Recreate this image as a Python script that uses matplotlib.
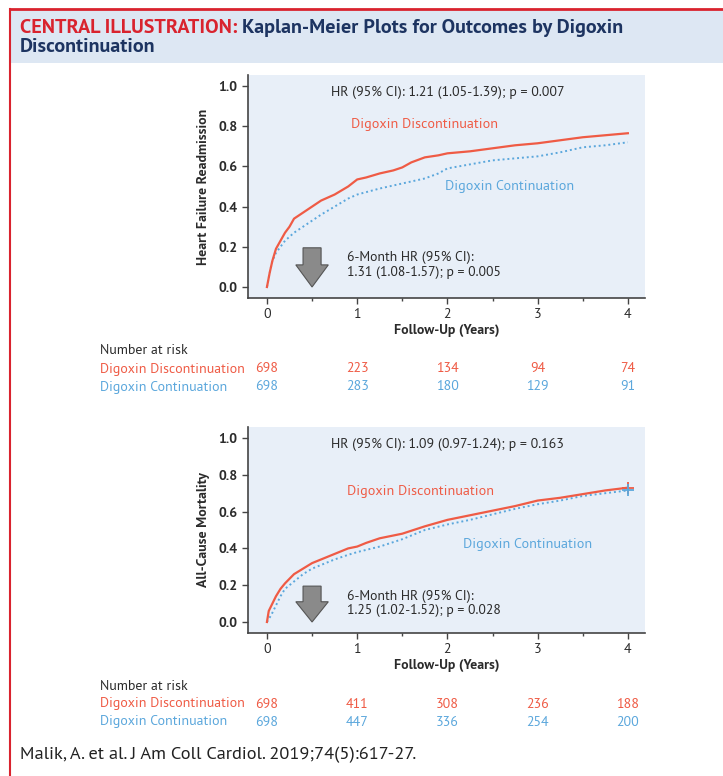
import numpy as np
import matplotlib.pyplot as plt
from matplotlib.patches import Rectangle, FancyArrow
from matplotlib.lines import Line2D
import matplotlib.transforms as mtransforms

plt.rcParams['font.family'] = ['PT Sans', 'DejaVu Sans']

W, H = 723, 776
RED = '#ef5b45'
BLUE = '#5ba7dc'
DARK = '#2b2b2b'

# heart failure readmission curves
hf_t_disc = [0, 0.03, 0.06, 0.1, 0.15, 0.2, 0.25, 0.3, 0.4, 0.5, 0.6, 0.75, 0.9, 1.0, 1.1, 1.25,
             1.4, 1.5, 1.6, 1.75, 1.9, 2.0, 2.25, 2.5, 2.75, 3.0, 3.25, 3.5, 3.75, 4.0]
hf_y_disc = [0, 0.07, 0.13, 0.19, 0.23, 0.27, 0.30, 0.34, 0.37, 0.40, 0.43, 0.46, 0.50, 0.535, 0.545,
             0.565, 0.58, 0.595, 0.62, 0.645, 0.655, 0.665, 0.675, 0.69, 0.705, 0.715, 0.73, 0.745,
             0.755, 0.765]
hf_t_cont = [0, 0.03, 0.06, 0.1, 0.15, 0.2, 0.25, 0.3, 0.4, 0.5, 0.6, 0.75, 0.9, 1.0, 1.25, 1.5,
             1.75, 1.9, 2.0, 2.25, 2.5, 2.75, 3.0, 3.25, 3.5, 3.75, 4.0]
hf_y_cont = [0, 0.07, 0.13, 0.17, 0.20, 0.23, 0.25, 0.27, 0.30, 0.33, 0.36, 0.40, 0.44, 0.46, 0.49,
             0.515, 0.54, 0.565, 0.59, 0.61, 0.63, 0.64, 0.65, 0.67, 0.695, 0.705, 0.72]

# all-cause mortality curves
mort_t_disc = [0, 0.02, 0.05, 0.1, 0.15, 0.2, 0.3, 0.4, 0.5, 0.6, 0.75, 0.9, 1.0, 1.1, 1.25, 1.4,
               1.5, 1.75, 2.0, 2.25, 2.5, 2.75, 3.0, 3.25, 3.5, 3.75, 4.0]
mort_y_disc = [0, 0.06, 0.09, 0.14, 0.18, 0.21, 0.26, 0.29, 0.32, 0.34, 0.37, 0.40, 0.41, 0.43,
               0.455, 0.47, 0.48, 0.52, 0.555, 0.58, 0.605, 0.63, 0.66, 0.675, 0.695, 0.715, 0.73]
mort_t_cont = [0, 0.05, 0.1, 0.15, 0.2, 0.3, 0.4, 0.5, 0.6, 0.75, 0.9, 1.0, 1.25, 1.5, 1.75, 2.0,
               2.25, 2.5, 2.75, 3.0, 3.25, 3.5, 3.75, 4.0]
mort_y_cont = [0, 0.04, 0.09, 0.14, 0.18, 0.22, 0.26, 0.29, 0.31, 0.34, 0.365, 0.38, 0.41, 0.45,
               0.50, 0.53, 0.555, 0.585, 0.615, 0.64, 0.66, 0.685, 0.70, 0.715]

risk_times = [0, 1, 2, 3, 4]
hf_risk_disc = [698, 223, 134, 94, 74]
hf_risk_cont = [698, 283, 180, 129, 91]
mort_risk_disc = [698, 411, 308, 236, 188]
mort_risk_cont = [698, 447, 336, 254, 200]

fig = plt.figure(figsize=(W / 100, H / 100), dpi=100)


def fy(py):
    return 1 - py / H


def fx(px):
    return px / W


# frame and header
fig.patches.append(Rectangle((fx(11), fy(63)), 1, fy(10) - fy(63), transform=fig.transFigure,
                             facecolor='#dde7f3', edgecolor='none', zorder=0))
fig.lines.append(Line2D([fx(10), 1], [fy(9), fy(9)], transform=fig.transFigure, color='#d9232e', lw=2))
fig.lines.append(Line2D([fx(10), fx(10)], [fy(9), 0], transform=fig.transFigure, color='#d9232e', lw=1.5))

hs = 14.5
t1 = fig.text(fx(20), fy(28), 'CENTRAL ILLUSTRATION: ', color='#d9232e', fontsize=hs,
              fontweight='bold', va='center', ha='left')
fig.canvas.draw()
bb = t1.get_window_extent()
fig.text(bb.x1 / W, fy(28), 'Kaplan-Meier Plots for Outcomes by Digoxin', color='#1d3461',
         fontsize=hs, fontweight='bold', va='center', ha='left')
fig.text(fx(20), fy(47), 'Discontinuation', color='#1d3461', fontsize=hs, fontweight='bold',
         va='center', ha='left')


def km_panel(top_px, bot_px, y0_px, y1_px, ylabel, t_d, y_d, t_c, y_c, hr, lbl_d, lbl_c,
             hr6a, hr6b, risk_y, risk_d, risk_c, censor=False):
    left, right = 248, 645
    ax = fig.add_axes([fx(left), fy(bot_px), fx(right) - fx(left), fy(top_px) - fy(bot_px)])
    unit = y0_px - y1_px
    ax.set_ylim(-(bot_px - y0_px) / unit, 1 + (y1_px - top_px) / unit)
    ax.set_xlim(-0.21, 4.19)
    ax.set_facecolor('#e8eff8')
    for s in ['top', 'right']:
        ax.spines[s].set_visible(False)
    for s in ['left', 'bottom']:
        ax.spines[s].set_color('#444444')
        ax.spines[s].set_linewidth(1.2)
    ax.set_xticks([0, 1, 2, 3, 4])
    ax.set_xticks([0.5, 1.5, 2.5, 3.5], minor=True)
    ax.set_yticks([0, 0.2, 0.4, 0.6, 0.8, 1.0])
    ax.set_yticklabels(['0.0', '0.2', '0.4', '0.6', '0.8', '1.0'])
    ax.tick_params(axis='both', labelsize=10, colors='#444444', labelcolor=DARK, length=4, width=1)
    ax.tick_params(axis='x', which='minor', length=2.5, width=1, colors='#444444')
    for lab in ax.get_yticklabels():
        lab.set_fontweight('bold')
    ax.set_xlabel('Follow-Up (Years)', fontsize=10, fontweight='bold', color=DARK, labelpad=2)
    ax.set_ylabel(ylabel, fontsize=10, fontweight='bold', color=DARK, labelpad=6)

    ax.plot(t_c, y_c, color=BLUE, lw=1.4, linestyle=(0, (1, 1.5)))
    ax.plot(t_d, y_d, color=RED, lw=1.6)
    if censor:
        ax.plot(t_d[-1], y_d[-1], marker='+', color=RED, ms=8, mew=1.3)
        ax.plot(t_c[-1], y_c[-1], marker='+', color=BLUE, ms=8, mew=1.3)

    ax.text(2.0, hr[1], hr[0], ha='center', va='center', fontsize=10, color=DARK)
    ax.text(lbl_d[0], lbl_d[1], 'Digoxin Discontinuation', ha='center', va='center',
            fontsize=10.2, color=RED)
    ax.text(lbl_c[0], lbl_c[1], 'Digoxin Continuation', ha='center', va='center',
            fontsize=10.2, color=BLUE)

    # 6-month arrow
    ytop = 0.195
    head = 0.11
    ax.add_patch(FancyArrow(0.5, ytop, 0, -(ytop - 0.0), width=0.2, head_width=0.36,
                            head_length=head, length_includes_head=True,
                            facecolor='#8a8a8a', edgecolor='#555555', lw=0.8))
    ax.text(0.89, hr6a[1], hr6a[0], ha='left', va='center', fontsize=9.9, color=DARK)
    ax.text(0.89, hr6b[1], hr6b[0], ha='left', va='center', fontsize=9.9, color=DARK)

    # number at risk table
    trans = mtransforms.blended_transform_factory(ax.transData, fig.transFigure)
    fig.text(fx(100), fy(risk_y[0]), 'Number at risk', ha='left', va='center', fontsize=10, color=DARK)
    fig.text(fx(100), fy(risk_y[1]), 'Digoxin Discontinuation', ha='left', va='center', fontsize=10,
             color=RED)
    fig.text(fx(100), fy(risk_y[2]), 'Digoxin Continuation', ha='left', va='center', fontsize=10,
             color=BLUE)
    for t, nd, nc in zip(risk_times, risk_d, risk_c):
        ax.text(t, fy(risk_y[1]), str(nd), transform=trans, ha='center', va='center', fontsize=10,
                color=RED)
        ax.text(t, fy(risk_y[2]), str(nc), transform=trans, ha='center', va='center', fontsize=10,
                color=BLUE)
    return ax


km_panel(75, 298, 287, 86, 'Heart Failure Readmission', hf_t_disc, hf_y_disc, hf_t_cont, hf_y_cont,
         ('HR (95% CI): 1.21 (1.05-1.39); p = 0.007', 0.97), (1.75, 0.81), (2.69, 0.50),
         ('6-Month HR (95% CI):', 0.145), ('1.31 (1.08-1.57); p = 0.005', 0.07),
         (351, 369, 387), hf_risk_disc, hf_risk_cont)

km_panel(427, 633, 622, 438, 'All-Cause Mortality', mort_t_disc, mort_y_disc, mort_t_cont, mort_y_cont,
         ('HR (95% CI): 1.09 (0.97-1.24); p = 0.163', 0.967), (1.7, 0.71), (2.89, 0.42),
         ('6-Month HR (95% CI):', 0.14), ('1.25 (1.02-1.52); p = 0.028', 0.06),
         (686, 704, 722), mort_risk_disc, mort_risk_cont, censor=True)

fig.text(fx(20), fy(755), 'Malik, A. et al. J Am Coll Cardiol. 2019;74(5):617-27.', ha='left',
         va='center', fontsize=13.2, color='#222222')

fig.savefig('out.png', dpi=100)
